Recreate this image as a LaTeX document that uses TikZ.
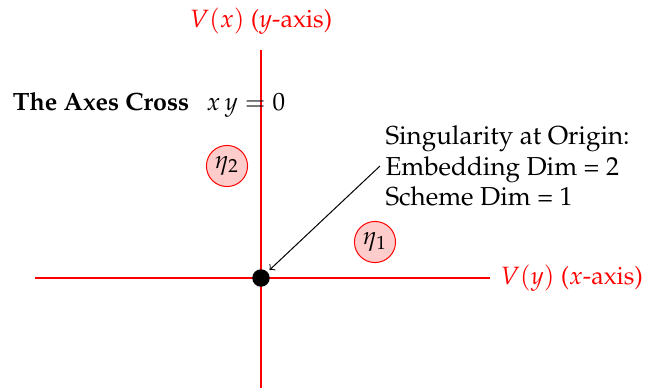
\documentclass[tikz,border=0pt]{standalone}
\usepackage[T1]{fontenc}
\usepackage{mathpazo}
\begin{document}
\begin{tikzpicture}[x=0.40pt,y=-0.40pt,
  axis/.style={draw=red,line width=0.8pt},
  axlabel/.style={text=red,inner sep=2pt},
  pt/.style={circle,fill=black,inner sep=0pt,minimum size=7pt},
  gen/.style={circle,draw=red,fill=red!20,inner sep=1.5pt,minimum size=16pt},
  note/.style={align=left,inner sep=2pt,font=\fontsize{10.4}{12.2}\selectfont}]
\useasboundingbox (0,0) rectangle (649,388);
\coordinate (ytop) at (261,50);
\coordinate (ybot) at (261,388);
\coordinate (xl) at (35,278);
\coordinate (xr) at (490,278);
\draw[axis] (ybot) -- (ytop);
\draw[axis] (xl) -- (xr);
\node[axlabel,anchor=south] (ylab) at (261,40) {$V(x)$ ($y$-axis)};
\node[axlabel,anchor=west] (xlab) at (495,278) {$V(y)$ ($x$-axis)};
\node[pt] (o) at (261,278) {};
\node[gen] (e2) at (227,166) {$\eta_2$};
\node[gen] (e1) at (375,242) {$\eta_1$};
\node[note,anchor=west] (n) at (380,166) {Singularity at Origin:\\Embedding Dim = 2\\Scheme Dim = 1};
\node (t) at (149,105) {\textbf{The Axes Cross}\hspace{7pt}$x\,y=0$};
\draw[->,thin,shorten >=1pt] (n.west) -- (o);
\end{tikzpicture}
\end{document}
